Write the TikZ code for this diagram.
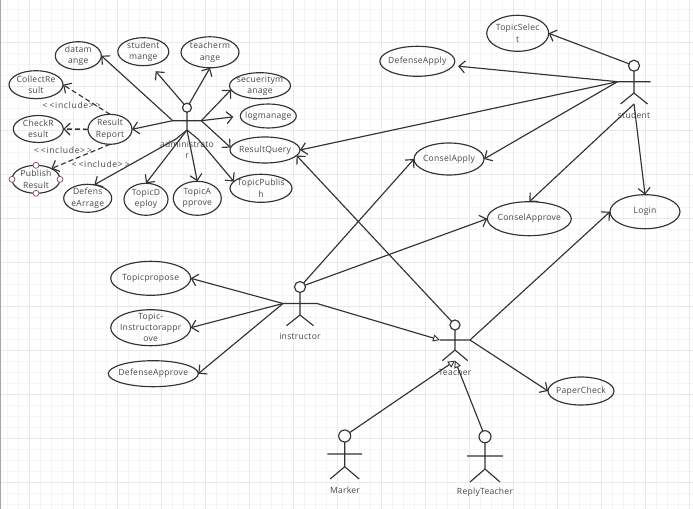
\documentclass[tikz,border=0pt]{standalone}
\usepackage{fontspec}
\setmainfont[LetterSpace=3]{Open Sans}
\usetikzlibrary{shapes.geometric,arrows.meta}
\definecolor{ink}{HTML}{333333}
\definecolor{txt}{HTML}{484848}
\definecolor{gridmin}{HTML}{F5F5F5}
\definecolor{gridmaj}{HTML}{E9E9E9}
\definecolor{handlec}{HTML}{8A4A4A}
\tikzset{
  x=1bp,y=-1bp,
  ink line/.style={draw=ink,line width=1.15bp},
  uc/.style={ink line,ellipse,inner sep=0pt,outer sep=0pt},
  uct/.style={text=txt,font=\fontsize{8.6}{11.2}\selectfont,align=center,inner sep=0pt},
  inclabel/.style={text=txt,font=\fontsize{8.6}{11.2}\selectfont\addfontfeature{LetterSpace=8},inner sep=0pt},
  actorhead/.style={ink line,circle,inner sep=0pt,outer sep=0pt},
  actorlabel/.style={uct},
  assoc/.style={ink line,-{Straight Barb[length=6bp,width=12bp,line width=1.15bp]}},
  gen/.style={ink line,-{Triangle[open,length=7bp,width=7bp,line width=0.9bp]}},
  incl/.style={ink line,dashed,dash pattern=on 5bp off 3bp,-{Straight Barb[length=6bp,width=12bp,line width=1.15bp]}},
  handle/.style={draw=handlec,fill=white,circle,inner sep=0pt,minimum size=6bp,line width=0.7bp},
}
% name, x, y, rx, ry, text
\newcommand{\usecase}[6]{\node[uc,minimum width=#4*2bp,minimum height=#5*2bp,label={[uct]center:{#6}}] (#1) at (#2,#3) {};}
% name, x, head y, r, arm y, half arm, body end, leg half, leg end
\newcommand{\actor}[9]{%
  \node[actorhead,minimum size=#4*2bp] (#1-head) at (#2,#3) {};
  \coordinate (#1-l) at (#2-#6,#5);
  \coordinate (#1-r) at (#2+#6,#5);
  \coordinate (#1-b) at (#2,#7);
  \coordinate (#1-ll) at (#2-#8,#9);
  \coordinate (#1-rl) at (#2+#8,#9);
  \coordinate (#1-base) at (#2,#9);
  \draw[ink line] (#1-head) -- (#1-b) (#1-l) -- (#1-r) (#1-ll) -- (#1-b) -- (#1-rl);
}
\begin{document}
\begin{tikzpicture}
\useasboundingbox (0,0) rectangle (693,509);
\fill[white] (0,0) rectangle (693,509);
% grid
\foreach \i in {0,...,62} {\draw[gridmin,line width=0.8bp] (7+11*\i,0) -- (7+11*\i,509);}
\foreach \i in {0,...,45} {\draw[gridmin,line width=0.8bp] (0,9.7+11*\i) -- (693,9.7+11*\i);}
\foreach \i in {0,...,15} {\draw[gridmaj,line width=0.9bp] (29+44*\i,0) -- (29+44*\i,509);}
\foreach \i in {0,...,10} {\draw[gridmaj,line width=0.9bp] (0,42.7+44*\i) -- (693,42.7+44*\i);}
\draw[gray!70,line width=1bp] (0.5,0) -- (0.5,509);

% use cases
\usecase{datamange}{78.3}{55.7}{23}{14}{datam\\ange}
\usecase{studentmange}{143.3}{51.7}{25.5}{14}{student\\mange}
\usecase{teachermange}{210}{52.3}{29}{15.5}{teacherm\\ange}
\usecase{secuerity}{260}{85.7}{30.5}{13}{secueritym\\anage}
\usecase{logmanage}{268.3}{116}{28}{12}{logmanage}
\usecase{resultquery}{265}{150}{35}{13}{ResultQuery}
\usecase{topicpublish}{261}{188.3}{31}{14}{TopicPublis\\h}
\usecase{topicapprove}{197.3}{198.3}{24}{17}{TopicA\\pprove}
\usecase{topicdeploy}{146}{199.3}{22}{16}{TopicD\\eploy}
\usecase{defensearrage}{87.7}{198.3}{24}{14}{Defens\\eArrage}
\usecase{publishresult}{36}{179.3}{24}{14}{Publish\\Result}
\usecase{checkresult}{38.3}{129}{25}{13.5}{CheckR\\esult}
\usecase{resultreport}{110}{129.3}{22}{15}{Result\\Report}
\usecase{collectresult}{36}{84.7}{27}{14}{CollectRe\\sult}
\usecase{topicpropose}{150.7}{278.3}{40}{17}{Topicpropose}
\usecase{topicinstr}{150.7}{327.7}{40}{18}{Topic-\\Instructorappr\\ove}
\usecase{defenseapprove}{153.3}{373.7}{45}{13}{DefenseApprove}
\usecase{topicselect}{517.7}{33.3}{31}{18}{TopicSelec\\t}
\usecase{defenseapply}{417.3}{61.3}{37.5}{15}{DefenseApply}
\usecase{conselapply}{449}{159}{35}{16}{ConselApply}
\usecase{conselapprove}{529.3}{218.7}{42}{17}{ConselApprove}
\usecase{login}{645}{211.7}{35}{17}{Login}
\usecase{papercheck}{581}{391}{33}{14}{PaperCheck}

% selection handles
\foreach \a in {north,south,east,west} {\node[handle] at (publishresult.\a) {};}

% actors
\actor{admin}{187}{107.7}{4.5}{120.7}{14.3}{130}{11}{139}
\actor{student}{634}{65.7}{5.5}{81.7}{16.5}{93}{13.5}{104}
\actor{instructor}{300}{287}{5.5}{303.5}{17}{315}{13.5}{325.7}
\actor{teacher}{455}{325}{5}{340}{15}{350}{12.7}{360.7}
\actor{marker}{344.7}{436}{6}{454}{17.3}{466.7}{14.5}{479}
\actor{reply}{485}{436.7}{6}{456}{17.8}{469}{15}{482}

% actor labels
\node[actorlabel] (adminlabel) at (187,149.5) {administrato\\r};
\node[actorlabel] (studentlabel) at (634,115) {student};
\node[actorlabel] (instructorlabel) at (300,336.5) {instructor};
\node[actorlabel] (teacherlabel) at (455,372) {Teacher};
\node[actorlabel] (markerlabel) at (345,490) {Marker};
\node[actorlabel] (replylabel) at (485,492) {ReplyTeacher};

% administrator associations
\draw[assoc] (admin-l) -- (datamange.east);
\draw[assoc,shorten >=8bp] (admin-head) -- (studentmange.-62);
\draw[assoc] (admin-head) -- (teachermange.south);
\draw[assoc] (admin-r) -- (secuerity.188);
\draw[assoc,shorten >=7bp] (admin-r) -- (logmanage.west);
\draw[assoc] (admin-r) -- (resultquery.176);
\draw[assoc] (admin-rl) -- (topicpublish.166);
\draw[assoc] (admin-b) -- (topicapprove.north);
\draw[assoc] (admin-b) -- (topicdeploy.north);
\draw[assoc] (admin-ll) -- (defensearrage.64);
\draw[assoc] (admin-l) -- (resultreport.east);

% include relations
\draw[incl] (resultreport.north) -- (collectresult.east);
\draw[incl,line width=1.5bp] (resultreport.west) -- (checkresult.east);
\draw[incl] (resultreport.south) -- (publishresult.35);
\node[inclabel] (inc1) at (71.7,105.7) {<\hspace{2bp}<include>\hspace{2bp}>};
\node[inclabel] (inc2) at (63,150) {<\hspace{2bp}<include>\hspace{2bp}>};
\node[inclabel] (inc3) at (100.7,164.7) {<\hspace{2bp}<include>\hspace{2bp}>};

% student associations
\draw[assoc] (student-head) -- (topicselect.east);
\draw[assoc,shorten >=5bp] (student-l) -- (defenseapply.-7);
\draw[assoc] (student-l) -- (resultquery.east);
\draw[assoc] (student-l) -- (conselapply.east);
\draw[assoc] (student-base) -- (conselapprove.north);
\draw[assoc] (student-base) -- (login.north);

% instructor associations
\draw[assoc] (instructor-l) -- (topicpropose.east);
\draw[assoc] (instructor-l) -- (topicinstr.east);
\draw[assoc] (instructor-l) -- (defenseapprove.east);
\draw[assoc] (instructor-head) -- (conselapply.west);
\draw[assoc] (instructor-head) -- (conselapprove.west);
\draw[gen] (instructor-r) -- (teacher-l);

% teacher associations
\draw[assoc] (teacher-head) -- (resultquery.-10);
\draw[assoc] (teacher-r) -- (login.west);
\draw[assoc] (teacher-r) -- (papercheck.west);
\draw[gen] (marker-head) -- (teacher-base);
\draw[gen] (reply-head) -- (teacher-base);
\end{tikzpicture}
\end{document}
